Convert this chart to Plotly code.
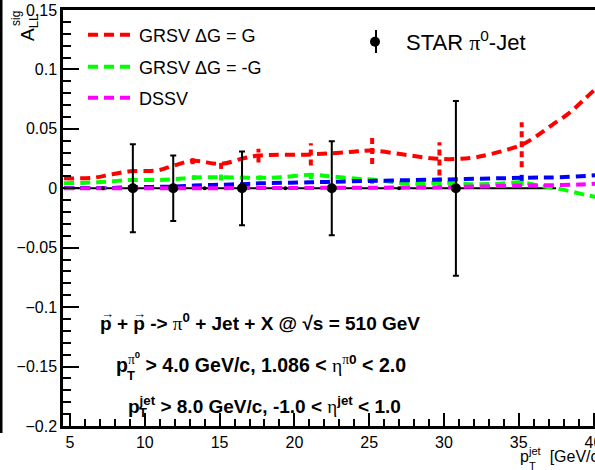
import plotly.graph_objects as go

# ---------------- data ----------------
# STAR pi0-jet projected statistical uncertainties (plotted at A_LL = 0)
star_pt = [9.2, 11.9, 16.5, 22.5, 30.8]
star_all = [0.0, 0.0, 0.0, 0.0, 0.0]
star_err = [0.037, 0.0275, 0.031, 0.0395, 0.0735]

# remaining bin centres without visible uncertainty
bin_pt = [7.2, 14.0, 19.4, 27.0]
bin_all = [0.0, 0.0, 0.0, 0.0]

# reference line at zero
zero_pt = [4.53, 37.5]
zero_all = [0.0, 0.0]

# GRSV dG = G
grsv_g_pt = [4.6, 6.5, 7.7, 9.0, 10.8, 11.9, 13.2, 15.1, 16.6, 17.6, 21.1, 23.7, 25.2, 27.5,
             29.7, 31.8, 33.2, 35.2, 36.2, 37.2, 38.3, 39.4, 40.5]
grsv_g_all = [0.0084, 0.0088, 0.0115, 0.0143, 0.0150, 0.0190, 0.0231, 0.0205, 0.0252, 0.0275,
              0.0285, 0.0305, 0.0317, 0.0280, 0.0247, 0.0255, 0.0290, 0.0366, 0.0440, 0.0530,
              0.0626, 0.0750, 0.0880]
grsv_g_err_pt = [13.2, 15.1, 17.6, 21.1, 25.2, 29.7, 35.2]
grsv_g_err_all = [0.0231, 0.0205, 0.0275, 0.0285, 0.0317, 0.0247, 0.0366]
grsv_g_err = [0.0028, 0.0042, 0.0058, 0.0094, 0.0112, 0.0140, 0.0190]

# GRSV dG = -G
grsv_mg_pt = [4.6, 6.8, 7.9, 9.1, 10.8, 11.9, 13.3, 15.1, 17.7, 19.1, 21.1, 22.6, 24.5, 25.2,
              26.7, 28.7, 29.7, 31.8, 33.5, 35.2, 36.3, 37.7, 39.7, 40.5]
grsv_mg_all = [0.0042, 0.0050, 0.0060, 0.0070, 0.0070, 0.0076, 0.0090, 0.0093, 0.0088, 0.0093,
               0.0113, 0.0098, 0.0078, 0.0075, 0.0050, 0.0037, 0.0048, 0.0035, 0.0037, 0.0050,
               0.0023, -0.0005, -0.0062, -0.0080]
grsv_mg_err_pt = [13.3, 15.1, 17.7, 21.1, 25.2, 29.7, 35.2]
grsv_mg_err_all = [0.0090, 0.0093, 0.0088, 0.0113, 0.0075, 0.0048, 0.0050]
grsv_mg_err = [0.0020, 0.0028, 0.0020, 0.0035, 0.0040, 0.0030, 0.0030]

# GRSV standard
grsv_std_pt = [4.6, 7.7, 9.1, 11.9, 13.3, 15.1, 16.9, 17.7, 21.1, 23.8, 29.7, 35.2, 37.7, 40.5]
grsv_std_all = [0.0003, 0.0003, 0.0010, 0.0014, 0.0023, 0.0030, 0.0037, 0.0042, 0.0050, 0.0059,
                0.0073, 0.0088, 0.0093, 0.0112]
grsv_std_err_pt = [29.7, 35.2]
grsv_std_err_all = [0.0073, 0.0088]
grsv_std_err = [0.0015, 0.0025]

# DSSV
dssv_pt = [4.6, 10.0, 20.0, 25.0, 29.7, 32.0, 35.2, 37.0, 39.0, 40.5]
dssv_all = [0.0, 0.0, 0.0003, 0.0005, 0.0008, 0.0014, 0.0023, 0.0025, 0.0031, 0.0040]

x_ticks = [5, 10, 15, 20, 25, 30, 35, 40]
y_ticks = [-0.2, -0.15, -0.1, -0.05, 0.0, 0.05, 0.1, 0.15]
y_ticktext = ["\u22120.2", "\u22120.15", "\u22120.1", "\u22120.05", "0", "0.05", "0.1", "0.15"]

RED = "#ff0000"
GREEN = "#00ff00"
BLUE = "#0000ff"
MAGENTA = "#ff00ff"
DASH = "10px,6px"
FONT = "Liberation Sans"

# plot-area geometry (pixels)
W, H = 595, 470
L, R, T, B = 63, 0, 10, 44
PW, PH = W - L - R, H - T - B


def px(x):
    return (x - L) / PW


def py(y):
    return (H - B - y) / PH


def bar_segments(xs, ys, es):
    bx, by = [], []
    for x, y, e in zip(xs, ys, es):
        bx += [x, x, None]
        by += [y - e, y + e, None]
    return bx, by


fig = go.Figure()

fig.add_trace(go.Scatter(x=zero_pt, y=zero_all, mode="lines",
                         line=dict(color="black", width=2), showlegend=False, hoverinfo="skip"))


def theory(xs, ys, color, name, legend, show, exs=None, eys=None, ees=None):
    fig.add_trace(go.Scatter(x=xs, y=ys, mode="lines", name=name,
                             line=dict(color=color, width=4, dash=DASH, shape="spline"),
                             showlegend=show, legend=legend))
    if exs:
        bx, by = bar_segments(exs, eys, ees)
        fig.add_trace(go.Scatter(x=bx, y=by, mode="lines",
                                 line=dict(color=color, width=4, dash="6px,4px"),
                                 showlegend=False, hoverinfo="skip"))


theory(grsv_g_pt, grsv_g_all, RED, "GRSV \u0394G = G", "legend", True,
       grsv_g_err_pt, grsv_g_err_all, grsv_g_err)
theory(grsv_mg_pt, grsv_mg_all, GREEN, "GRSV \u0394G = -G", "legend2", True,
       grsv_mg_err_pt, grsv_mg_err_all, grsv_mg_err)
theory(grsv_std_pt, grsv_std_all, BLUE, "GRSV std", "legend", False,
       grsv_std_err_pt, grsv_std_err_all, grsv_std_err)
theory(dssv_pt, dssv_all, MAGENTA, "DSSV", "legend3", True)

fig.add_trace(go.Scatter(x=bin_pt, y=bin_all, mode="markers",
                         marker=dict(color="black", size=4), showlegend=False, hoverinfo="skip"))

fig.add_trace(go.Scatter(
    x=star_pt, y=star_all, mode="markers",
    name="STAR <span style=\"font-family:'Liberation Serif'\">\u03c0</span><sup>0</sup>-Jet",
    marker=dict(color="black", size=10),
    error_y=dict(type="data", array=star_err, color="black", thickness=2, width=3),
    legend="legend4"))

legend_common = dict(bgcolor="rgba(0,0,0,0)", borderwidth=0, xanchor="left", yanchor="middle",
                     itemwidth=46, font=dict(family=FONT, size=18, color="black"))

fig.update_layout(
    template="none",
    width=W, height=H,
    margin=dict(l=L, r=R, t=T, b=B, pad=0, autoexpand=False),
    paper_bgcolor="white", plot_bgcolor="white",
    font=dict(family=FONT, color="black"),
    legend=dict(x=px(83), y=py(35), **legend_common),
    legend2=dict(x=px(83), y=py(67), **legend_common),
    legend3=dict(x=px(83), y=py(98), **legend_common),
    legend4=dict(x=px(344), y=py(42), **{**legend_common, "itemwidth": 52,
                                         "font": dict(family=FONT, size=22, color="black")}),
    xaxis=dict(range=[4.53, 40.1], showgrid=False, zeroline=False, automargin=False,
               showline=True, linecolor="black", linewidth=2.5, mirror=True,
               ticks="inside", ticklen=13, tickwidth=2, tickcolor="black",
               tickmode="array", tickvals=x_ticks, ticktext=[str(v) for v in x_ticks],
               tickfont=dict(family=FONT, size=16, color="black"),
               ticklabeloverflow="allow",
               minor=dict(ticks="inside", ticklen=7, tickwidth=1.5, tickcolor="black",
                          tickmode="linear", tick0=0, dtick=1)),
    yaxis=dict(range=[-0.2, 0.15], showgrid=False, zeroline=False, automargin=False,
               showline=True, linecolor="black", linewidth=2.5, mirror=False,
               ticks="inside", ticklen=16, tickwidth=2, tickcolor="black",
               tickmode="array", tickvals=y_ticks, ticktext=y_ticktext,
               tickfont=dict(family=FONT, size=16, color="black"),
               minor=dict(ticks="inside", ticklen=8, tickwidth=1.5, tickcolor="black",
                          tickmode="linear", tick0=0, dtick=0.01)),
)

ann = []
bold = dict(family=FONT, size=19, color="black")
serif_pi = "<span style=\"font-family:'Liberation Serif';font-weight:normal\">\u03c0</span>"
serif_eta = "<span style=\"font-family:'Liberation Serif';font-weight:normal\">\u03b7</span>"

ann.append(dict(x=px(98), y=py(322), xanchor="left", yanchor="middle",
                text="<b>p + p -&gt; " + serif_pi + "<sup>0</sup> + Jet + X @ \u221as = 510 GeV</b>",
                font=bold))
# polarisation arrows over the two protons
for ax in (107, 139):
    ann.append(dict(x=px(ax), y=py(313), xanchor="center", yanchor="middle",
                    text="<b>\u2192</b>", font=dict(family=FONT, size=13, color="black")))
ann.append(dict(x=px(114), y=py(362), xanchor="left", yanchor="middle",
                text="<b>p<sup>" + serif_pi + "<sup>0</sup></sup> &gt; 4.0 GeV/c, 1.086 &lt; " + serif_eta
                     + "<sup>" + serif_pi + "0</sup> &lt; 2.0</b>",
                font=dict(family=FONT, size=19.5, color="black")))
ann.append(dict(x=px(131), y=py(375), xanchor="center", yanchor="middle", text="<b>T</b>",
                font=dict(family=FONT, size=13, color="black")))
ann.append(dict(x=px(126), y=py(405), xanchor="left", yanchor="middle",
                text="<b>p<sup>jet</sup> &gt; 8.0 GeV/c, -1.0 &lt; " + serif_eta + "<sup>jet</sup> &lt; 1.0</b>",
                font=bold))
ann.append(dict(x=px(143), y=py(412), xanchor="center", yanchor="middle", text="<b>T</b>",
                font=dict(family=FONT, size=13, color="black")))

# axis titles
ann.append(dict(x=px(518), y=py(455), xanchor="left", yanchor="middle",
                text="p<sup>jet</sup>  [GeV/c]", font=dict(family=FONT, size=16, color="black")))
ann.append(dict(x=px(532), y=py(466), xanchor="center", yanchor="middle",
                text="T", font=dict(family=FONT, size=11, color="black")))
ann.append(dict(x=px(29), y=py(28), xanchor="center", yanchor="middle", textangle=-90,
                text="A<sub>LL</sub>", font=dict(family=FONT, size=19, color="black")))
ann.append(dict(x=px(16), y=py(19), xanchor="center", yanchor="middle", textangle=-90,
                text="sig", font=dict(family=FONT, size=12, color="black")))

for a in ann:
    a.update(xref="paper", yref="paper", showarrow=False)
fig.update_layout(annotations=ann)

# vertical bar for the STAR legend symbol and neighbouring frame edge
fig.add_shape(type="line", xref="paper", yref="paper", x0=px(376), x1=px(376),
              y0=py(53), y1=py(30), line=dict(color="black", width=2))
fig.add_shape(type="line", xref="paper", yref="paper", x0=px(1), x1=px(1),
              y0=py(433), y1=py(0), line=dict(color="black", width=3))

fig.write_html("out.html")
